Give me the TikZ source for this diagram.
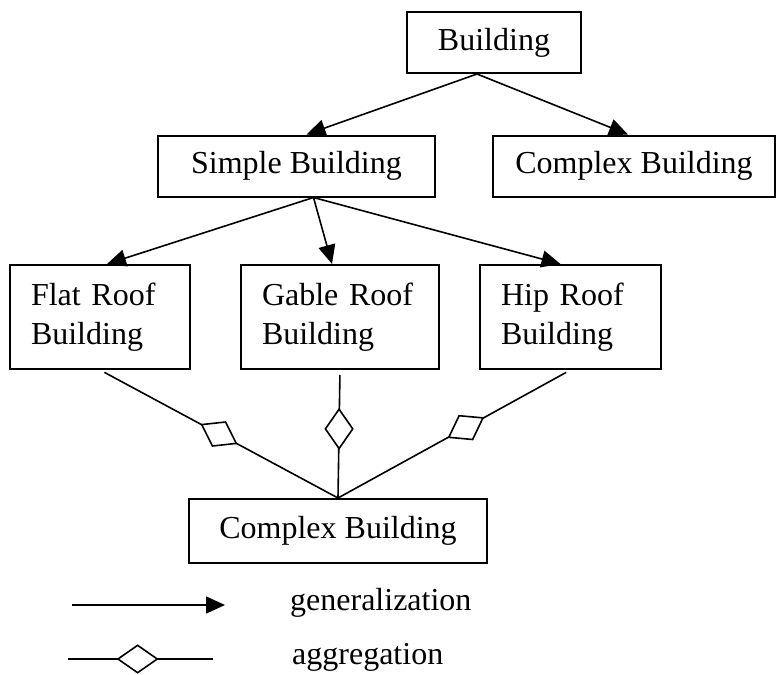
\documentclass[tikz,border=0pt]{standalone}
\usepackage{fontspec}
\setmainfont{Liberation Serif}
\usetikzlibrary{arrows.meta, positioning, shapes.geometric}

\begin{document}
\begin{tikzpicture}[x=1pt,y=-1pt,>={Triangle[length=19pt,width=17pt]},font=\fontsize{32}{39}\selectfont]
\tikzstyle{box}=[rectangle,draw=black,line width=2pt,minimum height=61pt,inner sep=0pt]
\tikzstyle{roof}=[rectangle,draw=black,line width=2pt,minimum height=104pt,align=left,inner xsep=21pt,inner ysep=0pt]
\tikzstyle{gen}=[->,line width=1.6pt]
\tikzstyle{aggr}=[line width=1.6pt]
\tikzstyle{dia}=[diamond,draw=black,fill=white,line width=1.6pt,minimum width=40pt,minimum height=28pt,inner sep=0pt]
\tikzstyle{legend}=[anchor=base west,inner sep=0pt]
\useasboundingbox (0,0) rectangle (777,675);
% classes
\node [box,minimum width=174pt] (bldg) at (494,42.5) {Building};
\node [box,minimum width=277pt] (simple) at (296.5,166) {Simple Building};
\node [box,minimum width=282pt] (cplx) [right=56pt of simple] {Complex Building};
\node [roof,text width=138pt] (flat) at (100,317) {Flat Roof\\Building};
\node [roof,text width=156pt] (gable) [right=49pt of flat] {Gable Roof\\Building};
\node [roof,text width=139pt] (hip) [right=39pt of gable] {Hip Roof\\Building};
\node [box,minimum width=298pt,minimum height=64pt] (cb) at (338,531) {Complex Building};
% generalization
\draw [gen] ([xshift=-17pt]bldg.south) -- ([xshift=10pt]simple.north);
\draw [gen] ([xshift=-17pt]bldg.south) -- ([xshift=-6pt]cplx.north);
\draw [gen] ([xshift=17pt]simple.south) -- ([xshift=7pt]flat.north);
\draw [gen] ([xshift=17pt]simple.south) -- ([xshift=-8pt]gable.north);
\draw [gen] ([xshift=17pt]simple.south) -- ([xshift=-10pt]hip.north);
% aggregation
\draw [aggr,shorten <=5pt] (flat.south) -- node [dia,rotate=-28.6,pos=0.5] {} (cb.north);
\draw [aggr,shorten <=5pt] (gable.south) -- node [dia,rotate=90,pos=0.46] {} (cb.north);
\draw [aggr,shorten <=5pt] (hip.south) -- node [dia,rotate=29.6,pos=0.45] {} (cb.north);
% legend
\coordinate (g0) at (72,605);
\coordinate (g1) at (225,605);
\draw [gen] (g0) -- (g1);
\node [legend] (gtxt) at (290,610) {generalization};
\coordinate (a0) at (68,659);
\coordinate (a1) at (213,659);
\draw [aggr] (a0) -- node [dia,pos=0.48] {} (a1);
\node [legend] (atxt) at (292,664) {aggregation};
\end{tikzpicture}
\end{document}
